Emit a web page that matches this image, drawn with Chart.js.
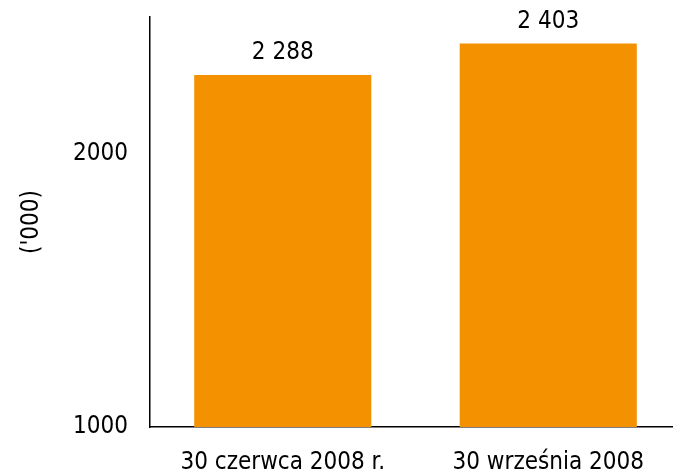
<!DOCTYPE html>
<html>
<head>
<meta charset="utf-8">
<script src="https://cdn.jsdelivr.net/npm/chart.js@4/dist/chart.umd.min.js"></script>
<style>
  html, body { margin: 0; padding: 0; background: #fff; overflow: hidden; }
  #wrap { width: 682px; height: 474px; }
</style>
</head>
<body>
<div id="wrap"><canvas id="chart" width="682" height="474"></canvas></div>
<script>
const categories = ['30 czerwca 2008 r.', '30 września 2008'];
const values = [2288, 2403];
const yTicks = [1000, 2000];
const yTitle = "('000)";

const FONT = '"DejaVu Sans Condensed", "DejaVu Sans", sans-serif';
const FONT_SIZE = 24;
const BAR_COLOR = '#f39100';

function formatValue(v) {
    return String(v).replace(/\B(?=(\d{3})+(?!\d))/g, ' ');
}

//? value labels above bars
const valueLabels = {
    id: 'valueLabels',
    afterDatasetsDraw(chart) {
        const { ctx } = chart;
        const meta = chart.getDatasetMeta(0);
        ctx.save();
        ctx.fillStyle = '#000';
        ctx.font = FONT_SIZE + 'px ' + FONT;
        ctx.textAlign = 'center';
        ctx.textBaseline = 'middle';
        meta.data.forEach((bar, i) => {
            ctx.fillText(formatValue(values[i]), bar.x, bar.y - 22);
        });
        ctx.restore();
    }
};

new Chart('chart', {
    type: 'bar',
    data: {
        labels: categories,
        datasets: [{
            data: values,
            backgroundColor: BAR_COLOR,
            borderWidth: 0,
            categoryPercentage: 1,
            barPercentage: 0.667
        }]
    },
    options: {
        responsive: false,
        animation: false,
        layout: { padding: { top: 17, right: 1, left: 13, bottom: 0 } },
        plugins: {
            legend: { display: false },
            tooltip: { enabled: false }
        },
        scales: {
            x: {
                grid: { display: false, drawTicks: false },
                border: { display: true, color: '#000', width: 1.5 },
                ticks: {
                    color: '#000',
                    font: { family: FONT, size: FONT_SIZE },
                    padding: 21,
                    maxRotation: 0
                },
                afterFit: (scale) => {
                    scale.height = 47;
                    scale.paddingLeft = 0;
                    scale.paddingRight = 0;
                }
            },
            y: {
                min: 1000,
                max: 2500,
                grid: { display: false, drawTicks: false },
                border: { display: true, color: '#000', width: 1.5 },
                afterBuildTicks: (scale) => {
                    scale.ticks = yTicks.map(v => ({ value: v }));
                },
                ticks: {
                    color: '#000',
                    font: { family: FONT, size: FONT_SIZE },
                    padding: 22,
                    callback: (v) => String(v)
                },
                title: {
                    display: true,
                    text: yTitle,
                    color: '#000',
                    font: { family: FONT, size: FONT_SIZE },
                    padding: { top: 4, bottom: 0 }
                },
                afterFit: (scale) => {
                    scale.width = 137;
                    scale.paddingTop = 0;
                    scale.paddingBottom = 0;
                }
            }
        }
    },
    plugins: [valueLabels]
});
</script>
</body>
</html>
